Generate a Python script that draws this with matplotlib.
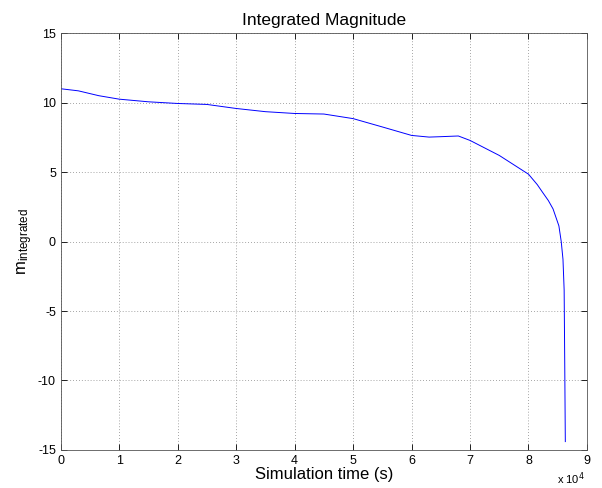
import numpy as np
import matplotlib
matplotlib.use("Agg")
import matplotlib.pyplot as plt
from matplotlib.ticker import FuncFormatter

plt.rcParams['font.family'] = ['Liberation Sans', 'DejaVu Sans']
plt.rcParams['axes.unicode_minus'] = False

# simulation time (s) and integrated magnitude
t_sim = np.array([0, 3000, 6500, 10000, 15000, 20000, 25000, 30000, 35000, 40000,
                  45000, 50000, 55000, 60000, 63000, 65000, 68000, 70000, 75000,
                  80000, 81500, 82400, 83400, 84200, 85200, 85600, 85900, 86100,
                  86200, 86300])
m_int = np.array([11.0, 10.85, 10.5, 10.25, 10.06, 9.94, 9.87, 9.58, 9.35, 9.22,
                  9.18, 8.85, 8.25, 7.64, 7.52, 7.55, 7.6, 7.28, 6.2,
                  4.85, 4.1, 3.55, 2.95, 2.35, 1.13, 0.0, -1.28, -3.5,
                  -8.8, -14.4])

fig = plt.figure(figsize=(6.02, 4.88), dpi=100)
ax = fig.add_axes([0.101, 0.078, 0.874, 0.854])

ax.plot(t_sim, m_int, color='#0000ff', lw=0.7)

ax.set_xlim(0, 90000)
ax.set_ylim(-15, 15)
ax.set_xticks(np.arange(0, 90001, 10000))
ax.set_yticks(np.arange(-15, 16, 5))
ax.xaxis.set_major_formatter(FuncFormatter(lambda v, p: '%g' % (v / 1e4)))
ax.tick_params(direction='in', top=True, right=True, labelsize=9, length=4, width=0.6)
ax.grid(True, linestyle=(0, (1, 2.5)), color='#888888', lw=0.6)
for s in ax.spines.values():
    s.set_linewidth(0.6)
    s.set_color('#555555')

fig.text(0.972, 0.02, r'x 10$^4$', fontsize=8, ha='right', va='center')
ax.set_title('Integrated Magnitude', fontsize=12.5)
ax.set_xlabel('Simulation time (s)', fontsize=12, labelpad=0)
ax.set_ylabel(r'$\mathregular{m_{integrated}}$', fontsize=12, labelpad=2)

fig.savefig('out.png', dpi=100)
